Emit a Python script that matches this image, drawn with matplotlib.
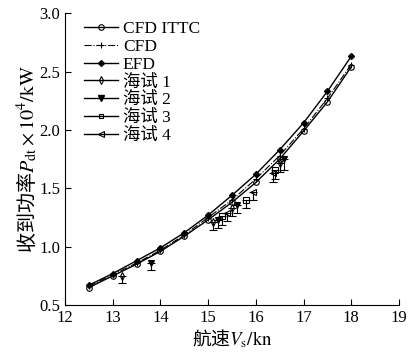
import numpy as np
import matplotlib.pyplot as plt
from matplotlib.lines import Line2D

plt.rcParams['font.family'] = ['Liberation Serif', 'Noto Sans CJK SC']
plt.rcParams['mathtext.fontset'] = 'stix'

# model curves
v_model = [12.5, 13.0, 13.5, 14.0, 14.5, 15.0, 15.5, 16.0, 16.5, 17.0, 17.5, 18.0]
p_ittc = [0.65, 0.75, 0.85, 0.96, 1.09, 1.23, 1.38, 1.55, 1.75, 1.99, 2.24, 2.54]
p_cfd = [0.66, 0.76, 0.86, 0.97, 1.10, 1.25, 1.40, 1.58, 1.78, 2.01, 2.27, 2.56]
p_efd = [0.67, 0.77, 0.88, 0.99, 1.12, 1.27, 1.44, 1.62, 1.83, 2.06, 2.33, 2.63]

# sea trials
v_t1 = [13.2, 15.1, 15.5, 16.5]
p_t1 = [0.75, 1.21, 1.33, 1.72]
e_t1 = [0.06, 0.07, 0.07, 0.08]
v_t2 = [13.8, 15.2, 15.6, 16.6]
p_t2 = [0.86, 1.23, 1.36, 1.75]
e_t2 = [0.06, 0.07, 0.07, 0.09]
v_t3 = [15.3, 15.8, 16.4]
p_t3 = [1.26, 1.40, 1.66]
e_t3 = [0.07, 0.07, 0.08]
v_t4 = [15.4, 15.95, 16.35]
p_t4 = [1.29, 1.47, 1.63]
e_t4 = [0.07, 0.07, 0.08]

labels = ['CFD ITTC', 'CFD', 'EFD', '海试 1', '海试 2', '海试 3', '海试 4']

fig = plt.figure(figsize=(4.1, 3.56), dpi=100)
ax = fig.add_axes([0.1585, 0.143, 0.8145, 0.82])

ax.plot(v_model, p_ittc, 'k-', lw=1.0, marker='o', ms=4, mfc='none', mew=0.8)
ax.plot(v_model, p_cfd, 'k-.', lw=0.8, marker='+', ms=5, mew=0.8)
ax.plot(v_model, p_efd, 'k-', lw=1.0, marker='D', ms=3, mfc='k')

trials = [
    (v_t1, p_t1, e_t1, 'd', 'none'),
    (v_t2, p_t2, e_t2, 'v', 'k'),
    (v_t3, p_t3, e_t3, 's', 'none'),
    (v_t4, p_t4, e_t4, '<', 'none'),
]
for v, p, e, m, fc in trials:
    ax.errorbar(v, p, yerr=[e, np.zeros(len(e))], fmt=m, color='k', mfc=fc, ms=4, mew=0.8,
                elinewidth=0.8, capsize=3, capthick=0.8)

ax.set_xlim(12, 19)
ax.set_ylim(0.5, 3.0)
ax.set_xticks(np.arange(12, 20, 1))
ax.set_yticks(np.arange(0.5, 3.01, 0.5))
ax.set_yticklabels([f'{t:.1f}' for t in np.arange(0.5, 3.01, 0.5)])
ax.tick_params(direction='in', labelsize=12, length=4, width=0.8)
for s in ['top', 'right']:
    ax.spines[s].set_visible(False)

ax.set_xlabel('航速$V_\\mathrm{s}/\\mathrm{kn}$', fontsize=13.5, labelpad=1, family='Noto Sans CJK SC')
ax.set_ylabel('收到功率$P_\\mathrm{dt}\\times 10^4/\\mathrm{kW}$', fontsize=14.5, labelpad=0,
              family='Noto Sans CJK SC')

leg_handles = [
    Line2D([], [], color='k', lw=1.0, marker='o', ms=4, mfc='none', mew=0.8),
    Line2D([], [], color='k', ls='-.', lw=0.8, marker='+', ms=5, mew=0.8),
    Line2D([], [], color='k', lw=1.0, marker='D', ms=3, mfc='k'),
    Line2D([], [], color='k', lw=1.0, marker='d', ms=4, mfc='none', mew=0.8),
    Line2D([], [], color='k', lw=1.0, marker='v', ms=4, mfc='k'),
    Line2D([], [], color='k', lw=1.0, marker='s', ms=3, mfc='none', mew=0.8),
    Line2D([], [], color='k', lw=1.0, marker='<', ms=4, mfc='none', mew=0.8),
]
ax.legend(leg_handles, labels, loc='upper left', bbox_to_anchor=(0.025, 1.01), frameon=False,
          fontsize=12.5, handlelength=1.95, handletextpad=0.3, labelspacing=0.1, borderaxespad=0.2)

fig.savefig('out.png', dpi=100)
